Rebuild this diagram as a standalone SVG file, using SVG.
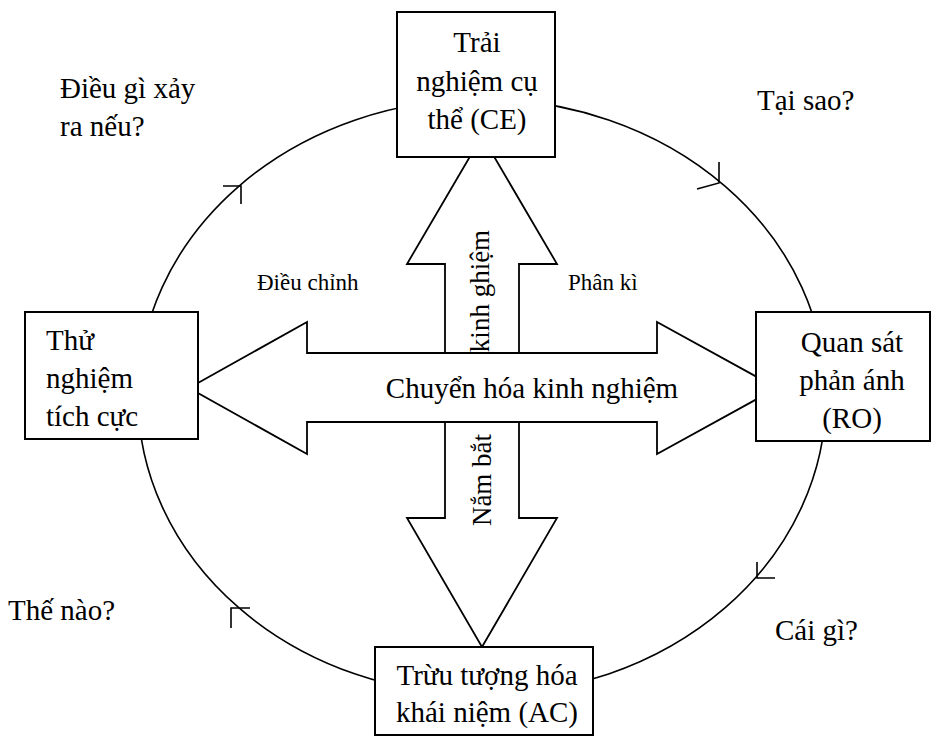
<svg xmlns="http://www.w3.org/2000/svg" width="937" height="736" viewBox="0 0 937 736">
<style>
.ln{fill:none;stroke:#000;stroke-width:1.6}
.sh{fill:#fff;stroke:#000;stroke-width:1.8;stroke-linejoin:miter}
.bx{fill:#fff;stroke:#000;stroke-width:2}
text{font-family:'Liberation Serif','DejaVu Serif',serif;font-size:29px;fill:#000}
.sm{font-size:23px}
.c{text-anchor:middle}
</style>
<rect width="937" height="736" fill="#fff"/>
<g id="connectors">
<ellipse class="ln" cx="482" cy="397" rx="344" ry="298"/>
<path class="ln" d="M223,186 L241,186 L241,204"/>
<path class="ln" d="M719,162 L719,183 L697,189"/>
<path class="ln" d="M757,562 L757,578 L775,578"/>
<path class="ln" d="M250,608 L231,608 L231,628"/>
</g>
<g id="arrow-up">
<polygon class="sh" points="445,353 445,264 407,264 482,136 557,264 519,264 519,353"/>
<text class="c" transform="translate(489,291) rotate(-90)" font-family="Liberation Serif, serif" style="font-size:27px">kinh ghiệm</text>
</g>
<g id="arrow-down">
<polygon class="sh" points="445,422 519,422 519,518 557,518 482,647 407,518 445,518"/>
<text class="c" transform="translate(491,480) rotate(-90)" font-family="Liberation Serif, serif" style="font-size:27px">Nắm bắt</text>
</g>
<g id="arrow-horizontal">
<polygon class="sh" points="189,388 307,322 307,353 657,353 657,322 777,388 657,454 657,422 307,422 307,454"/>
<text class="c" x="532" y="398">Chuyển hóa kinh nghiệm</text>
</g>
<g id="node-ce">
<rect class="bx" x="397" y="12" width="158" height="145"/>
<text class="c" x="477" y="52">Trải</text>
<text class="c" x="477" y="91">nghiệm cụ</text>
<text class="c" x="477" y="129">thể (CE)</text>
</g>
<g id="node-ae">
<rect class="bx" x="25" y="312" width="173" height="127"/>
<text x="46" y="350">Thử</text>
<text x="46" y="388">nghiệm</text>
<text x="46" y="426">tích cực</text>
</g>
<g id="node-ro">
<rect class="bx" x="756" y="312" width="174" height="129"/>
<text class="c" x="852" y="352">Quan sát</text>
<text class="c" x="852" y="390">phản ánh</text>
<text class="c" x="852" y="428">(RO)</text>
</g>
<g id="node-ac">
<rect class="bx" x="375" y="647" width="218" height="88"/>
<text class="c" x="487" y="685">Trừu tượng hóa</text>
<text class="c" x="487" y="722">khái niệm (AC)</text>
</g>
<g id="labels">
<text x="60" y="98">Điều gì xảy</text>
<text x="60" y="136">ra nếu?</text>
<text x="757" y="110">Tại sao?</text>
<text x="8" y="620">Thế nào?</text>
<text x="775" y="640">Cái gì?</text>
<text class="sm" x="257" y="290">Điều chỉnh</text>
<text class="sm" x="568" y="290">Phân kì</text>
</g>
</svg>
